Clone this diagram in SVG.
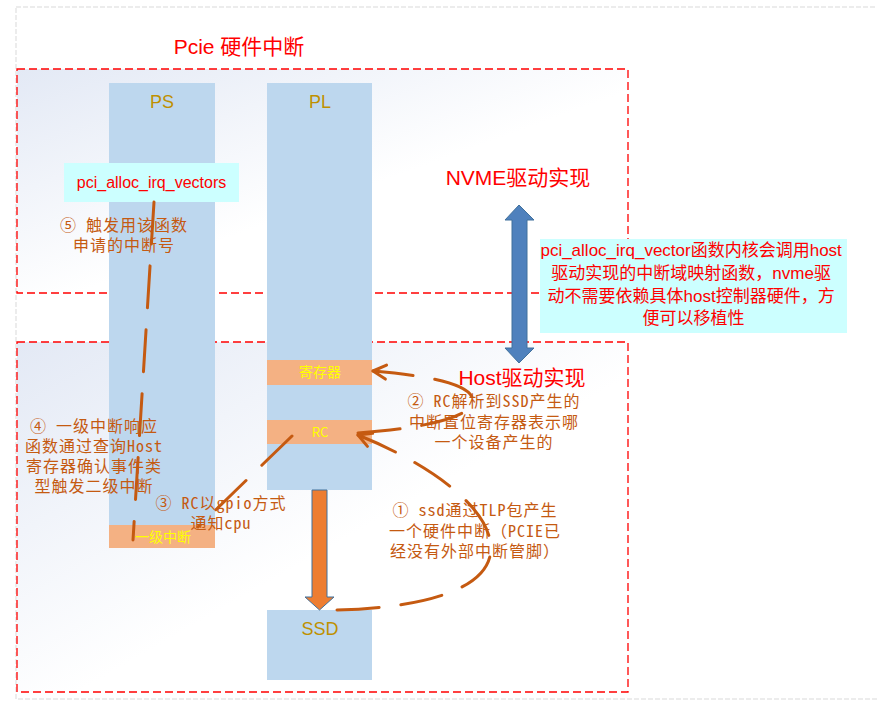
<svg xmlns="http://www.w3.org/2000/svg" width="877" height="716" viewBox="0 0 877 716">
<defs>
<linearGradient id="bg" x1="0" y1="0" x2="1" y2="1">
<stop offset="0" stop-color="#E3E9F5"/>
<stop offset="0.55" stop-color="#FFFFFF"/>
</linearGradient>
<marker id="ah" markerUnits="userSpaceOnUse" markerWidth="20" markerHeight="20" viewBox="0 0 20 20" refX="17" refY="10" orient="auto">
<path d="M4,3 L17,10 L4,17" fill="none" stroke="#C55A11" stroke-width="3" stroke-linecap="round" stroke-linejoin="round"/>
</marker>
</defs>
<style>
.zone{fill:url(#bg);stroke:#FF0000;stroke-width:1.3;stroke-dasharray:8 4}
.col{fill:#BDD7EE}
.band{fill:#F4B183}
.cyan{fill:#CCFFFF}
.lbl{font-family:"Liberation Sans","Noto Sans CJK SC",sans-serif;fill:#BF9000;text-anchor:middle;font-size:18px}
.red{font-family:"Liberation Sans","Noto Sans CJK SC",sans-serif;fill:#FF0000;text-anchor:middle}
.yel{font-family:"Noto Sans CJK SC","Liberation Sans",sans-serif;fill:#FFFF00;text-anchor:middle}
.note{font-family:"Noto Sans Mono CJK SC","Liberation Mono","Noto Sans CJK SC",monospace;fill:#C55A11;font-size:16px;letter-spacing:1px;text-anchor:middle}
.dash{fill:none;stroke:#C55A11;stroke-width:3;stroke-dasharray:42 22;stroke-linecap:round}
</style>
<rect x="0" y="0" width="877" height="716" fill="#FFFFFF"/>
<rect x="16" y="7" width="900" height="692" fill="none" stroke="#D9D9D9" stroke-dasharray="5 2"/>

<g id="zone-pcie">
<rect class="zone" x="17" y="69" width="611" height="224"/>
<text class="red" x="239" y="54" font-size="21">Pcie 硬件中断</text>
</g>
<g id="zone-host">
<rect class="zone" x="17" y="342" width="611" height="350"/>
</g>

<g id="ps">
<rect class="col" x="109" y="83" width="106" height="465"/>
<text class="lbl" x="162" y="108">PS</text>
</g>
<g id="pl">
<rect class="col" x="267" y="83" width="105" height="407"/>
<text class="lbl" x="320" y="108">PL</text>
</g>
<g id="reg">
<rect class="band" x="267" y="360" width="105" height="25"/>
<text class="yel" x="320" y="377" font-size="14">寄存器</text>
</g>
<g id="rc">
<rect class="band" x="267" y="420" width="105" height="24"/>
<text class="yel" x="320" y="437" font-size="13">RC</text>
</g>
<g id="irq1">
<rect class="band" x="109" y="525" width="106" height="23"/>
<text class="yel" x="163" y="542" font-size="14">一级中断</text>
</g>
<g id="ssd">
<rect class="col" x="267" y="610" width="105" height="70"/>
<text class="lbl" x="320" y="635">SSD</text>
</g>
<g id="pci-func">
<rect class="cyan" x="64" y="163" width="175" height="39"/>
<text class="red" x="151.5" y="188" font-size="16">pci_alloc_irq_vectors</text>
</g>
<g id="nvme-title">
<text class="red" x="518" y="185" font-size="21">NVME驱动实现</text>
</g>
<g id="host-title">
<text class="red" x="522" y="385" font-size="21">Host驱动实现</text>
</g>
<g id="note-box">
<rect class="cyan" x="540" y="239" width="307" height="94"/>
<text class="red" font-size="17">
<tspan x="693.5" y="256">pci_alloc_irq_vector函数内核会调用host</tspan>
<tspan x="693.5" y="279">驱动实现的中断域映射函数，nvme驱</tspan>
<tspan x="693.5" y="302">动不需要依赖具体host控制器硬件，方</tspan>
<tspan x="693.5" y="324">便可以移植性</tspan>
</text>
</g>

<g id="connectors">
<polygon points="519,205 534,220 527,220 527,348 534,348 519,363 505,348 512,348 512,220 505,220" fill="#4F81BD" stroke="#41719C" stroke-width="1"/>
<polygon points="312,490 327,490 327,597 334,597 319.5,610 305,597 312,597" fill="#ED7D31" stroke="#41719C" stroke-width="1"/>
<path class="dash" d="M154,202 L133,540"/>
<path class="dash" d="M292,436 L198,527"/>
<path class="dash" d="M358,433 C430,428 480,415 472,397 C465,382 420,375 373,371" marker-end="url(#ah)"/>
<path class="dash" d="M337,610 C420,608 500,590 490,540 C482,500 420,460 358,435" marker-end="url(#ah)"/>
</g>

<g id="labels">
<text class="note"><tspan x="124" y="231">⑤ 触发用该函数</tspan><tspan x="124" y="251">申请的中断号</tspan></text>
<text class="note"><tspan x="94" y="432">④ 一级中断响应</tspan><tspan x="94" y="452">函数通过查询Host</tspan><tspan x="94" y="472">寄存器确认事件类</tspan><tspan x="94" y="492">型触发二级中断</tspan></text>
<text class="note"><tspan x="221" y="509">③ RC以gpio方式</tspan><tspan x="221" y="529">通知cpu</tspan></text>
<text class="note"><tspan x="494" y="407">② RC解析到SSD产生的</tspan><tspan x="494" y="428">中断置位寄存器表示哪</tspan><tspan x="494" y="448">一个设备产生的</tspan></text>
<text class="note"><tspan x="475" y="516">① ssd通过TLP包产生</tspan><tspan x="475" y="537">一个硬件中断（PCIE已</tspan><tspan x="475" y="557">经没有外部中断管脚）</tspan></text>
</g>
</svg>
